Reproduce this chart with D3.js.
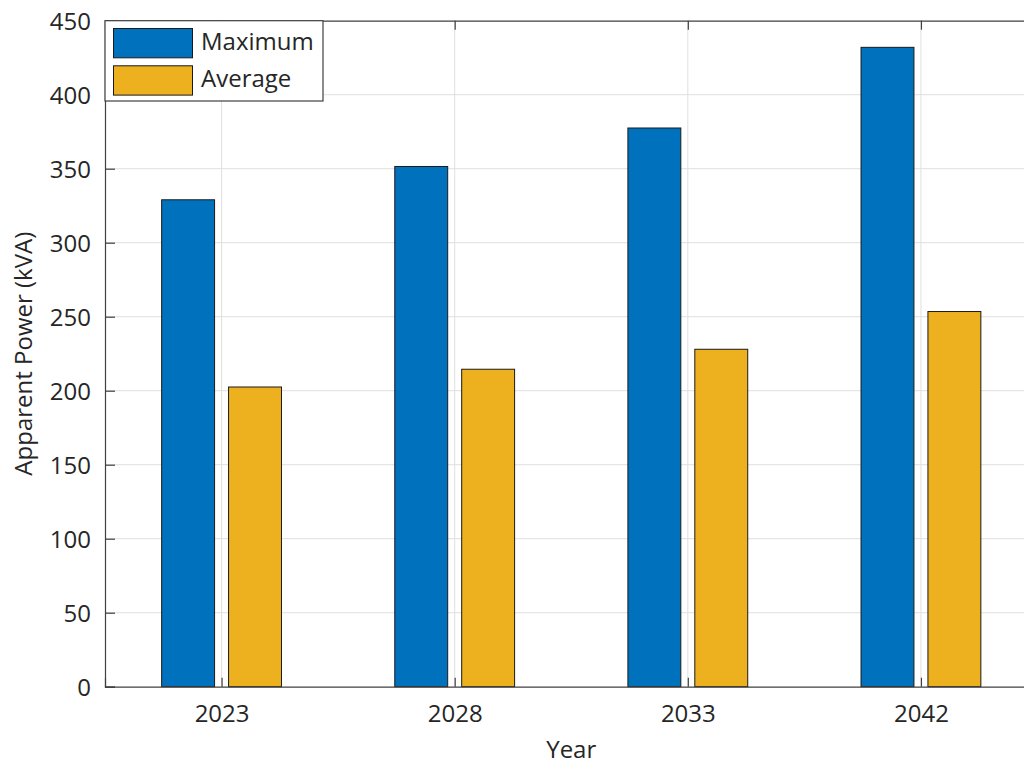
<!DOCTYPE html>
<html>
<head>
<meta charset="utf-8">
<script src="https://cdn.jsdelivr.net/npm/d3@7/dist/d3.min.js"></script>
<style>
  html, body { margin: 0; padding: 0; background: #fff; }
  svg { display: block; }
  text { font-family: "Open Sans", "Noto Sans", sans-serif; fill: #262626; }
</style>
</head>
<body>
<svg id="chart" width="1024" height="765"></svg>
<script>
const categories = ["2023", "2028", "2033", "2042"];
const seriesNames = ["Maximum", "Average"];
const maximumValues = [329, 351.5, 377.5, 432];
const averageValues = [202.5, 214.5, 228, 253.5];
const yTicks = [0, 50, 100, 150, 200, 250, 300, 350, 400, 450];
const colors = ["#0072BD", "#EDB120"];

const svg = d3.select("#chart");
const pLeft = 105, pRight = 1037.5, pTop = 20.7, pBottom = 686.7;
const fontSize = "24px";

const x = d3.scaleLinear().domain([0.5, categories.length + 0.5]).range([pLeft, pRight]);
const y = d3.scaleLinear().domain([0, 450]).range([pBottom, pTop]);

const series = [maximumValues, averageValues];
const groupOffset = 0.1435, barW = 0.227;

// grid
const grid = svg.append("g").attr("stroke", "#dfdfdf").attr("stroke-width", 1);
grid.selectAll("line.h").data(yTicks.slice(1, -1)).join("line")
  .attr("x1", pLeft).attr("x2", pRight).attr("y1", d => y(d)).attr("y2", d => y(d));
grid.selectAll("line.v").data(categories).join("line")
  .attr("x1", (d, i) => x(i + 1)).attr("x2", (d, i) => x(i + 1)).attr("y1", pTop).attr("y2", pBottom);

// bars
series.forEach((vals, s) => {
  const off = s === 0 ? -groupOffset : groupOffset;
  svg.append("g").selectAll("rect").data(vals).join("rect")
    .attr("x", (d, i) => x(i + 1 + off - barW / 2))
    .attr("width", (d, i) => x(i + 1 + off + barW / 2) - x(i + 1 + off - barW / 2))
    .attr("y", d => y(d))
    .attr("height", d => y(0) - y(d))
    .attr("fill", colors[s])
    .attr("stroke", "#1a1a1a").attr("stroke-width", 1);
});

// axes
const yAxis = d3.axisLeft(y).tickValues(yTicks).tickSize(-10).tickPadding(14).tickFormat(d3.format("d"));
const gy = svg.append("g").attr("transform", `translate(${pLeft},0)`).call(yAxis);
const xAxis = d3.axisBottom(x).tickValues(d3.range(1, categories.length + 1)).tickSize(-9).tickPadding(18)
  .tickFormat(d => categories[d - 1]);
const gx = svg.append("g").attr("transform", `translate(0,${pBottom})`).call(xAxis);
const xTop = d3.axisTop(x).tickValues(d3.range(1, categories.length + 1)).tickSize(-9).tickFormat("");
const gxt = svg.append("g").attr("transform", `translate(0,${pTop})`).call(xTop);
const yRight = d3.axisRight(y).tickValues(yTicks).tickSize(-10).tickFormat("");
const gyr = svg.append("g").attr("transform", `translate(${pRight},0)`).call(yRight);

[gy, gx, gxt, gyr].forEach(g => {
  g.select(".domain").attr("stroke", "#404040").attr("stroke-width", 1.2);
  g.selectAll(".tick line").attr("stroke", "#404040").attr("stroke-width", 1.2);
  g.selectAll(".tick text").style("font-family", '"Open Sans", "Noto Sans", sans-serif')
    .style("font-size", fontSize).attr("fill", "#262626");
});
gy.selectAll(".tick text").attr("dy", "0.36em");

// axis labels
svg.append("text").attr("x", (pLeft + pRight) / 2).attr("y", 757.5)
  .attr("text-anchor", "middle").style("font-size", fontSize).text("Year");
svg.append("text").attr("transform", `translate(32,${(pTop + pBottom) / 2}) rotate(-90)`)
  .attr("text-anchor", "middle").style("font-size", fontSize).text("Apparent Power (kVA)");

// legend
const lg = svg.append("g");
lg.append("rect").attr("x", 105).attr("y", 20.7).attr("width", 218).attr("height", 80.3)
  .attr("fill", "#fff").attr("stroke", "#404040").attr("stroke-width", 1.2);
seriesNames.forEach((name, s) => {
  lg.append("rect").attr("x", 113.5).attr("y", 28.5 + s * 37.3).attr("width", 79).attr("height", 29.3)
    .attr("fill", colors[s]).attr("stroke", "#1a1a1a").attr("stroke-width", 1);
  lg.append("text").attr("x", 201).attr("y", 50 + s * 37.3).style("font-size", fontSize).text(name);
});
</script>
</body>
</html>
